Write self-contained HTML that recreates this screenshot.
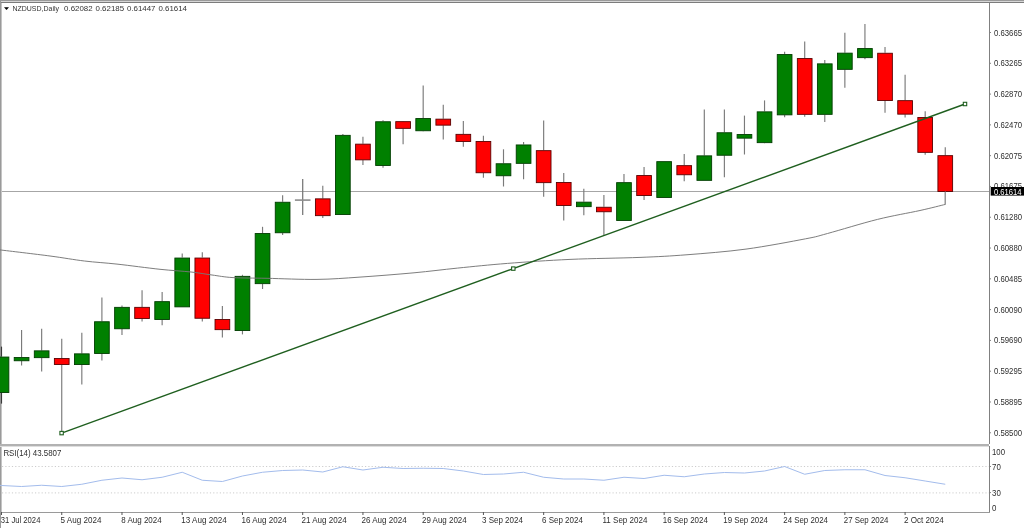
<!DOCTYPE html><html><head><meta charset="utf-8"><style>
html,body{margin:0;padding:0;background:#fff;width:1024px;height:528px;overflow:hidden}
svg{position:absolute;left:0;top:0;display:block;filter:blur(0.35px)}
text{font-family:"Liberation Sans",sans-serif}
</style></head><body>
<svg width="1024" height="528" viewBox="0 0 1024 528">
<rect x="0" y="0" width="1024" height="528" fill="#fff"/>
<rect x="0" y="0" width="1024" height="1" fill="#9a9a9a"/>
<rect x="0" y="1" width="1024" height="1" fill="#d6d6d6"/>
<rect x="1" y="2" width="1023" height="1" fill="#7c7c7c"/>
<rect x="0" y="0" width="1" height="528" fill="#9a9a9a"/>
<rect x="1" y="3" width="1" height="510" fill="#c4c4c4"/>
<rect x="989" y="3" width="1" height="441" fill="#808080"/>
<rect x="989" y="446" width="1" height="67" fill="#808080"/>
<rect x="0" y="444" width="989" height="2" fill="#b2b2b2"/>
<rect x="0" y="446" width="989" height="1" fill="#dedede"/>
<rect x="0" y="512" width="990" height="1" fill="#9a9a9a"/>
<rect x="2" y="191" width="987" height="1" fill="#a6a6a6"/>
<line x1="1.5" y1="346.6" x2="1.5" y2="356.6" stroke="#3a3a3a" stroke-width="1.15"/>
<line x1="1.5" y1="392.6" x2="1.5" y2="403.6" stroke="#3a3a3a" stroke-width="1.15"/>
<rect x="-5.85" y="357.05" width="14.7" height="35.5" fill="#008000" stroke="#003c00" stroke-width="0.9"/>
<line x1="21.58" y1="330" x2="21.58" y2="357.1" stroke="#7a7a7a" stroke-width="1.15"/>
<line x1="21.58" y1="360.8" x2="21.58" y2="365.5" stroke="#7a7a7a" stroke-width="1.15"/>
<rect x="14.23" y="357.55" width="14.7" height="3.2" fill="#008000" stroke="#003c00" stroke-width="0.9"/>
<line x1="41.66" y1="328.8" x2="41.66" y2="350.4" stroke="#7a7a7a" stroke-width="1.15"/>
<line x1="41.66" y1="357.7" x2="41.66" y2="371.5" stroke="#7a7a7a" stroke-width="1.15"/>
<rect x="34.31" y="350.85" width="14.7" height="6.8" fill="#008000" stroke="#003c00" stroke-width="0.9"/>
<line x1="61.74" y1="338.8" x2="61.74" y2="358.1" stroke="#7a7a7a" stroke-width="1.15"/>
<line x1="61.74" y1="364.6" x2="61.74" y2="433" stroke="#7a7a7a" stroke-width="1.15"/>
<rect x="54.39" y="358.55" width="14.7" height="6" fill="#ff0000" stroke="#5a0000" stroke-width="0.9"/>
<line x1="81.82" y1="332.8" x2="81.82" y2="353.4" stroke="#7a7a7a" stroke-width="1.15"/>
<line x1="81.82" y1="364.6" x2="81.82" y2="384.4" stroke="#7a7a7a" stroke-width="1.15"/>
<rect x="74.47" y="353.85" width="14.7" height="10.7" fill="#008000" stroke="#003c00" stroke-width="0.9"/>
<line x1="101.9" y1="297.5" x2="101.9" y2="321.3" stroke="#7a7a7a" stroke-width="1.15"/>
<line x1="101.9" y1="353.5" x2="101.9" y2="360.6" stroke="#7a7a7a" stroke-width="1.15"/>
<rect x="94.55" y="321.75" width="14.7" height="31.7" fill="#008000" stroke="#003c00" stroke-width="0.9"/>
<line x1="121.98" y1="305.6" x2="121.98" y2="306.9" stroke="#7a7a7a" stroke-width="1.15"/>
<line x1="121.98" y1="328.8" x2="121.98" y2="335" stroke="#7a7a7a" stroke-width="1.15"/>
<rect x="114.63" y="307.35" width="14.7" height="21.4" fill="#008000" stroke="#003c00" stroke-width="0.9"/>
<line x1="142.06" y1="290.2" x2="142.06" y2="306.9" stroke="#7a7a7a" stroke-width="1.15"/>
<line x1="142.06" y1="318.5" x2="142.06" y2="321.5" stroke="#7a7a7a" stroke-width="1.15"/>
<rect x="134.71" y="307.35" width="14.7" height="11.1" fill="#ff0000" stroke="#5a0000" stroke-width="0.9"/>
<line x1="162.14" y1="292.1" x2="162.14" y2="301.2" stroke="#7a7a7a" stroke-width="1.15"/>
<line x1="162.14" y1="319.6" x2="162.14" y2="325.3" stroke="#7a7a7a" stroke-width="1.15"/>
<rect x="154.79" y="301.65" width="14.7" height="17.9" fill="#008000" stroke="#003c00" stroke-width="0.9"/>
<line x1="182.22" y1="253.5" x2="182.22" y2="257.6" stroke="#7a7a7a" stroke-width="1.15"/>
<rect x="174.87" y="258.05" width="14.7" height="48.8" fill="#008000" stroke="#003c00" stroke-width="0.9"/>
<line x1="202.3" y1="252.3" x2="202.3" y2="257.6" stroke="#7a7a7a" stroke-width="1.15"/>
<line x1="202.3" y1="318.3" x2="202.3" y2="321.5" stroke="#7a7a7a" stroke-width="1.15"/>
<rect x="194.95" y="258.05" width="14.7" height="60.2" fill="#ff0000" stroke="#5a0000" stroke-width="0.9"/>
<line x1="222.38" y1="305.9" x2="222.38" y2="319.1" stroke="#7a7a7a" stroke-width="1.15"/>
<line x1="222.38" y1="329.7" x2="222.38" y2="337.5" stroke="#7a7a7a" stroke-width="1.15"/>
<rect x="215.03" y="319.55" width="14.7" height="10.1" fill="#ff0000" stroke="#5a0000" stroke-width="0.9"/>
<line x1="242.46" y1="274.8" x2="242.46" y2="275.9" stroke="#7a7a7a" stroke-width="1.15"/>
<line x1="242.46" y1="330.6" x2="242.46" y2="334.4" stroke="#7a7a7a" stroke-width="1.15"/>
<rect x="235.11" y="276.35" width="14.7" height="54.2" fill="#008000" stroke="#003c00" stroke-width="0.9"/>
<line x1="262.54" y1="226.8" x2="262.54" y2="233.1" stroke="#7a7a7a" stroke-width="1.15"/>
<line x1="262.54" y1="283.7" x2="262.54" y2="289" stroke="#7a7a7a" stroke-width="1.15"/>
<rect x="255.19" y="233.55" width="14.7" height="50.1" fill="#008000" stroke="#003c00" stroke-width="0.9"/>
<line x1="282.62" y1="195.2" x2="282.62" y2="201.8" stroke="#7a7a7a" stroke-width="1.15"/>
<line x1="282.62" y1="232.8" x2="282.62" y2="235.1" stroke="#7a7a7a" stroke-width="1.15"/>
<rect x="275.27" y="202.25" width="14.7" height="30.5" fill="#008000" stroke="#003c00" stroke-width="0.9"/>
<line x1="302.7" y1="179" x2="302.7" y2="215.1" stroke="#767676" stroke-width="1.25"/>
<rect x="294.9" y="199.3" width="15.6" height="1.6" fill="#8c8c8c"/>
<line x1="322.78" y1="185.8" x2="322.78" y2="198.4" stroke="#7a7a7a" stroke-width="1.15"/>
<line x1="322.78" y1="215.7" x2="322.78" y2="218.1" stroke="#7a7a7a" stroke-width="1.15"/>
<rect x="315.43" y="198.85" width="14.7" height="16.8" fill="#ff0000" stroke="#5a0000" stroke-width="0.9"/>
<line x1="342.86" y1="133.9" x2="342.86" y2="134.9" stroke="#7a7a7a" stroke-width="1.15"/>
<rect x="335.51" y="135.35" width="14.7" height="79.2" fill="#008000" stroke="#003c00" stroke-width="0.9"/>
<line x1="362.94" y1="136.8" x2="362.94" y2="143.7" stroke="#7a7a7a" stroke-width="1.15"/>
<line x1="362.94" y1="159.9" x2="362.94" y2="164.9" stroke="#7a7a7a" stroke-width="1.15"/>
<rect x="355.59" y="144.15" width="14.7" height="15.7" fill="#ff0000" stroke="#5a0000" stroke-width="0.9"/>
<line x1="383.02" y1="120.2" x2="383.02" y2="121.3" stroke="#7a7a7a" stroke-width="1.15"/>
<line x1="383.02" y1="165.5" x2="383.02" y2="167.8" stroke="#7a7a7a" stroke-width="1.15"/>
<rect x="375.67" y="121.75" width="14.7" height="43.7" fill="#008000" stroke="#003c00" stroke-width="0.9"/>
<line x1="403.1" y1="121" x2="403.1" y2="121.2" stroke="#7a7a7a" stroke-width="1.15"/>
<line x1="403.1" y1="128.4" x2="403.1" y2="144.2" stroke="#7a7a7a" stroke-width="1.15"/>
<rect x="395.75" y="121.65" width="14.7" height="6.7" fill="#ff0000" stroke="#5a0000" stroke-width="0.9"/>
<line x1="423.18" y1="85.4" x2="423.18" y2="118.1" stroke="#7a7a7a" stroke-width="1.15"/>
<line x1="423.18" y1="130.8" x2="423.18" y2="131.3" stroke="#7a7a7a" stroke-width="1.15"/>
<rect x="415.83" y="118.55" width="14.7" height="12.2" fill="#008000" stroke="#003c00" stroke-width="0.9"/>
<line x1="443.26" y1="104.8" x2="443.26" y2="118.7" stroke="#7a7a7a" stroke-width="1.15"/>
<line x1="443.26" y1="125.2" x2="443.26" y2="139.6" stroke="#7a7a7a" stroke-width="1.15"/>
<rect x="435.91" y="119.15" width="14.7" height="6" fill="#ff0000" stroke="#5a0000" stroke-width="0.9"/>
<line x1="463.34" y1="121" x2="463.34" y2="133.9" stroke="#7a7a7a" stroke-width="1.15"/>
<line x1="463.34" y1="141.5" x2="463.34" y2="146.8" stroke="#7a7a7a" stroke-width="1.15"/>
<rect x="455.99" y="134.35" width="14.7" height="7.1" fill="#ff0000" stroke="#5a0000" stroke-width="0.9"/>
<line x1="483.42" y1="135.7" x2="483.42" y2="141" stroke="#7a7a7a" stroke-width="1.15"/>
<line x1="483.42" y1="172.8" x2="483.42" y2="177.8" stroke="#7a7a7a" stroke-width="1.15"/>
<rect x="476.07" y="141.45" width="14.7" height="31.3" fill="#ff0000" stroke="#5a0000" stroke-width="0.9"/>
<line x1="503.5" y1="149.3" x2="503.5" y2="163.3" stroke="#7a7a7a" stroke-width="1.15"/>
<line x1="503.5" y1="175.8" x2="503.5" y2="186.5" stroke="#7a7a7a" stroke-width="1.15"/>
<rect x="496.15" y="163.75" width="14.7" height="12" fill="#008000" stroke="#003c00" stroke-width="0.9"/>
<line x1="523.58" y1="142" x2="523.58" y2="144.5" stroke="#7a7a7a" stroke-width="1.15"/>
<line x1="523.58" y1="163.4" x2="523.58" y2="179.3" stroke="#7a7a7a" stroke-width="1.15"/>
<rect x="516.23" y="144.95" width="14.7" height="18.4" fill="#008000" stroke="#003c00" stroke-width="0.9"/>
<line x1="543.66" y1="120.5" x2="543.66" y2="150.2" stroke="#7a7a7a" stroke-width="1.15"/>
<line x1="543.66" y1="182.7" x2="543.66" y2="196.8" stroke="#7a7a7a" stroke-width="1.15"/>
<rect x="536.31" y="150.65" width="14.7" height="32" fill="#ff0000" stroke="#5a0000" stroke-width="0.9"/>
<line x1="563.74" y1="172.9" x2="563.74" y2="182" stroke="#7a7a7a" stroke-width="1.15"/>
<line x1="563.74" y1="205.5" x2="563.74" y2="220.6" stroke="#7a7a7a" stroke-width="1.15"/>
<rect x="556.39" y="182.45" width="14.7" height="23" fill="#ff0000" stroke="#5a0000" stroke-width="0.9"/>
<line x1="583.82" y1="188.8" x2="583.82" y2="201.7" stroke="#7a7a7a" stroke-width="1.15"/>
<line x1="583.82" y1="206.7" x2="583.82" y2="215.3" stroke="#7a7a7a" stroke-width="1.15"/>
<rect x="576.47" y="202.15" width="14.7" height="4.5" fill="#008000" stroke="#003c00" stroke-width="0.9"/>
<line x1="603.9" y1="195.1" x2="603.9" y2="206.8" stroke="#7a7a7a" stroke-width="1.15"/>
<line x1="603.9" y1="211.8" x2="603.9" y2="235.3" stroke="#7a7a7a" stroke-width="1.15"/>
<rect x="596.55" y="207.25" width="14.7" height="4.5" fill="#ff0000" stroke="#5a0000" stroke-width="0.9"/>
<line x1="623.98" y1="174" x2="623.98" y2="182.2" stroke="#7a7a7a" stroke-width="1.15"/>
<rect x="616.63" y="182.65" width="14.7" height="37.8" fill="#008000" stroke="#003c00" stroke-width="0.9"/>
<line x1="644.06" y1="166.9" x2="644.06" y2="175.1" stroke="#7a7a7a" stroke-width="1.15"/>
<line x1="644.06" y1="195.6" x2="644.06" y2="199.9" stroke="#7a7a7a" stroke-width="1.15"/>
<rect x="636.71" y="175.55" width="14.7" height="20" fill="#ff0000" stroke="#5a0000" stroke-width="0.9"/>
<rect x="656.79" y="161.65" width="14.7" height="35.8" fill="#008000" stroke="#003c00" stroke-width="0.9"/>
<line x1="684.22" y1="153.9" x2="684.22" y2="165.2" stroke="#7a7a7a" stroke-width="1.15"/>
<line x1="684.22" y1="174.8" x2="684.22" y2="181.2" stroke="#7a7a7a" stroke-width="1.15"/>
<rect x="676.87" y="165.65" width="14.7" height="9.1" fill="#ff0000" stroke="#5a0000" stroke-width="0.9"/>
<line x1="704.3" y1="109.5" x2="704.3" y2="155.4" stroke="#7a7a7a" stroke-width="1.15"/>
<rect x="696.95" y="155.85" width="14.7" height="24.5" fill="#008000" stroke="#003c00" stroke-width="0.9"/>
<line x1="724.38" y1="109.4" x2="724.38" y2="132.3" stroke="#7a7a7a" stroke-width="1.15"/>
<line x1="724.38" y1="155.3" x2="724.38" y2="177.3" stroke="#7a7a7a" stroke-width="1.15"/>
<rect x="717.03" y="132.75" width="14.7" height="22.5" fill="#008000" stroke="#003c00" stroke-width="0.9"/>
<line x1="744.46" y1="115.6" x2="744.46" y2="134.1" stroke="#7a7a7a" stroke-width="1.15"/>
<line x1="744.46" y1="138.2" x2="744.46" y2="154.5" stroke="#7a7a7a" stroke-width="1.15"/>
<rect x="737.11" y="134.55" width="14.7" height="3.6" fill="#008000" stroke="#003c00" stroke-width="0.9"/>
<line x1="764.54" y1="100.4" x2="764.54" y2="111.4" stroke="#7a7a7a" stroke-width="1.15"/>
<line x1="764.54" y1="142.7" x2="764.54" y2="143.2" stroke="#7a7a7a" stroke-width="1.15"/>
<rect x="757.19" y="111.85" width="14.7" height="30.8" fill="#008000" stroke="#003c00" stroke-width="0.9"/>
<line x1="784.62" y1="51.8" x2="784.62" y2="54.1" stroke="#7a7a7a" stroke-width="1.15"/>
<line x1="784.62" y1="114.9" x2="784.62" y2="117.2" stroke="#7a7a7a" stroke-width="1.15"/>
<rect x="777.27" y="54.55" width="14.7" height="60.3" fill="#008000" stroke="#003c00" stroke-width="0.9"/>
<line x1="804.7" y1="41.4" x2="804.7" y2="58.1" stroke="#7a7a7a" stroke-width="1.15"/>
<line x1="804.7" y1="114.4" x2="804.7" y2="116.8" stroke="#7a7a7a" stroke-width="1.15"/>
<rect x="797.35" y="58.55" width="14.7" height="55.8" fill="#ff0000" stroke="#5a0000" stroke-width="0.9"/>
<line x1="824.78" y1="60" x2="824.78" y2="63.4" stroke="#7a7a7a" stroke-width="1.15"/>
<line x1="824.78" y1="114.4" x2="824.78" y2="122" stroke="#7a7a7a" stroke-width="1.15"/>
<rect x="817.43" y="63.85" width="14.7" height="50.5" fill="#008000" stroke="#003c00" stroke-width="0.9"/>
<line x1="844.86" y1="32.8" x2="844.86" y2="52.7" stroke="#7a7a7a" stroke-width="1.15"/>
<line x1="844.86" y1="69.4" x2="844.86" y2="87.8" stroke="#7a7a7a" stroke-width="1.15"/>
<rect x="837.51" y="53.15" width="14.7" height="16.2" fill="#008000" stroke="#003c00" stroke-width="0.9"/>
<line x1="864.94" y1="23.9" x2="864.94" y2="48.1" stroke="#7a7a7a" stroke-width="1.15"/>
<line x1="864.94" y1="57.7" x2="864.94" y2="59.2" stroke="#7a7a7a" stroke-width="1.15"/>
<rect x="857.59" y="48.55" width="14.7" height="9.1" fill="#008000" stroke="#003c00" stroke-width="0.9"/>
<line x1="885.02" y1="47.1" x2="885.02" y2="52.8" stroke="#7a7a7a" stroke-width="1.15"/>
<line x1="885.02" y1="100.6" x2="885.02" y2="112.7" stroke="#7a7a7a" stroke-width="1.15"/>
<rect x="877.67" y="53.25" width="14.7" height="47.3" fill="#ff0000" stroke="#5a0000" stroke-width="0.9"/>
<line x1="905.1" y1="74.8" x2="905.1" y2="100.2" stroke="#7a7a7a" stroke-width="1.15"/>
<line x1="905.1" y1="114.2" x2="905.1" y2="117.6" stroke="#7a7a7a" stroke-width="1.15"/>
<rect x="897.75" y="100.65" width="14.7" height="13.5" fill="#ff0000" stroke="#5a0000" stroke-width="0.9"/>
<line x1="925.18" y1="111.2" x2="925.18" y2="117" stroke="#7a7a7a" stroke-width="1.15"/>
<line x1="925.18" y1="152.4" x2="925.18" y2="154.8" stroke="#7a7a7a" stroke-width="1.15"/>
<rect x="917.83" y="117.45" width="14.7" height="34.9" fill="#ff0000" stroke="#5a0000" stroke-width="0.9"/>
<line x1="945.26" y1="147.3" x2="945.26" y2="155.2" stroke="#7a7a7a" stroke-width="1.15"/>
<line x1="945.26" y1="191.5" x2="945.26" y2="204.4" stroke="#7a7a7a" stroke-width="1.15"/>
<rect x="937.91" y="155.65" width="14.7" height="35.8" fill="#ff0000" stroke="#5a0000" stroke-width="0.9"/>
<path fill="none" stroke="#767676" stroke-width="0.95" d="M0,249.9 C8.33,250.92 35.93,254.15 50,256 C64.07,257.85 73.23,259.65 84.4,261 C95.57,262.35 104.4,262.72 117,264.1 C129.6,265.48 147.67,267.98 160,269.3 C172.33,270.62 182.33,271.05 191,272 C199.67,272.95 205,274.07 212,275 C219,275.93 223.83,277.05 233,277.6 C242.17,278.15 253,278 267,278.3 C281,278.6 301.5,279.6 317,279.4 C332.5,279.2 343.83,278.2 360,277.1 C376.17,276 397.75,274.3 414,272.8 C430.25,271.3 441.92,269.67 457.5,268.1 C473.08,266.53 488.75,264.85 507.5,263.4 C526.25,261.95 547.92,260.4 570,259.4 C592.08,258.4 620.5,258.17 640,257.4 C659.5,256.62 669.33,256.13 687,254.75 C704.67,253.37 726.23,251.76 746,249.1 C765.77,246.44 792.02,241.4 805.6,238.8 C819.18,236.2 815.52,236.73 827.5,233.5 C839.48,230.27 862.08,223.23 877.5,219.4 C892.92,215.57 908.7,213 920,210.5 C931.3,208 941.08,205.42 945.3,204.4"/>
<line x1="945.3" y1="191.5" x2="945.3" y2="204.4" stroke="#9a9a9a" stroke-width="1"/>
<line x1="61.6" y1="433.1" x2="965" y2="104" stroke="#1f5f1f" stroke-width="1.35"/>
<rect x="59.9" y="431.4" width="3.4" height="3.4" fill="#fff" stroke="#1f5f1f" stroke-width="1.1"/>
<rect x="511.6" y="266.9" width="3.4" height="3.4" fill="#fff" stroke="#1f5f1f" stroke-width="1.1"/>
<rect x="963.3" y="102.3" width="3.4" height="3.4" fill="#fff" stroke="#1f5f1f" stroke-width="1.1"/>
<line x1="2" y1="466.5" x2="989" y2="466.5" stroke="#cdcdcd" stroke-width="1" stroke-dasharray="1.2,2.1"/>
<line x1="2" y1="492.9" x2="989" y2="492.9" stroke="#cdcdcd" stroke-width="1" stroke-dasharray="1.2,2.1"/>
<polyline fill="none" stroke="#a3bcec" stroke-width="1" points="0,485.4 1.5,485.5 21.58,486.5 41.66,485.25 61.74,486.5 81.82,484.25 101.9,480.25 121.98,478 142.06,479.75 162.14,477.25 182.22,472.25 202.3,480.25 222.38,481.5 242.46,476 262.54,472.25 282.62,470.5 302.7,470 322.78,472 342.86,466.75 362.94,470 383.02,467.25 403.1,468.5 423.18,468.25 443.26,468.5 463.34,471 483.42,474.5 503.5,474 523.58,472.25 543.66,477.25 563.74,479 583.82,479 603.9,480.25 623.98,477.25 644.06,478.5 664.14,475.25 684.22,476.75 704.3,474 724.38,472.5 744.46,473 764.54,471 784.62,466.5 804.7,474.25 824.78,470.5 844.86,469.75 864.94,469.75 885.02,475.5 905.1,477.75 925.18,481 945.26,484.25"/>
<rect x="990" y="32" width="1" height="1" fill="#808080"/>
<text x="994" y="35.5" font-size="8.4" fill="#2e2e2e" textLength="28" lengthAdjust="spacingAndGlyphs">0.63665</text>
<rect x="990" y="62.79" width="1" height="1" fill="#808080"/>
<text x="994" y="66.29" font-size="8.4" fill="#2e2e2e" textLength="28" lengthAdjust="spacingAndGlyphs">0.63265</text>
<rect x="990" y="93.58" width="1" height="1" fill="#808080"/>
<text x="994" y="97.08" font-size="8.4" fill="#2e2e2e" textLength="28" lengthAdjust="spacingAndGlyphs">0.62870</text>
<rect x="990" y="124.37" width="1" height="1" fill="#808080"/>
<text x="994" y="127.87" font-size="8.4" fill="#2e2e2e" textLength="28" lengthAdjust="spacingAndGlyphs">0.62470</text>
<rect x="990" y="155.16" width="1" height="1" fill="#808080"/>
<text x="994" y="158.66" font-size="8.4" fill="#2e2e2e" textLength="28" lengthAdjust="spacingAndGlyphs">0.62075</text>
<rect x="990" y="185.95" width="1" height="1" fill="#808080"/>
<text x="994" y="189.45" font-size="8.4" fill="#2e2e2e" textLength="28" lengthAdjust="spacingAndGlyphs">0.61675</text>
<rect x="990" y="216.74" width="1" height="1" fill="#808080"/>
<text x="994" y="220.24" font-size="8.4" fill="#2e2e2e" textLength="28" lengthAdjust="spacingAndGlyphs">0.61280</text>
<rect x="990" y="247.53" width="1" height="1" fill="#808080"/>
<text x="994" y="251.03" font-size="8.4" fill="#2e2e2e" textLength="28" lengthAdjust="spacingAndGlyphs">0.60880</text>
<rect x="990" y="278.32" width="1" height="1" fill="#808080"/>
<text x="994" y="281.82" font-size="8.4" fill="#2e2e2e" textLength="28" lengthAdjust="spacingAndGlyphs">0.60485</text>
<rect x="990" y="309.11" width="1" height="1" fill="#808080"/>
<text x="994" y="312.61" font-size="8.4" fill="#2e2e2e" textLength="28" lengthAdjust="spacingAndGlyphs">0.60090</text>
<rect x="990" y="339.9" width="1" height="1" fill="#808080"/>
<text x="994" y="343.4" font-size="8.4" fill="#2e2e2e" textLength="28" lengthAdjust="spacingAndGlyphs">0.59690</text>
<rect x="990" y="370.69" width="1" height="1" fill="#808080"/>
<text x="994" y="374.19" font-size="8.4" fill="#2e2e2e" textLength="28" lengthAdjust="spacingAndGlyphs">0.59295</text>
<rect x="990" y="401.48" width="1" height="1" fill="#808080"/>
<text x="994" y="404.98" font-size="8.4" fill="#2e2e2e" textLength="28" lengthAdjust="spacingAndGlyphs">0.58895</text>
<rect x="990" y="432.27" width="1" height="1" fill="#808080"/>
<text x="994" y="435.77" font-size="8.4" fill="#2e2e2e" textLength="28" lengthAdjust="spacingAndGlyphs">0.58500</text>
<rect x="990.7" y="187" width="34" height="8.6" fill="#000"/>
<text x="994" y="194.6" font-size="8.6" fill="#fff" textLength="27.6" lengthAdjust="spacingAndGlyphs">0.61614</text>
<text x="992" y="454.7" font-size="8.4" fill="#2e2e2e" textLength="13" lengthAdjust="spacingAndGlyphs">100</text>
<text x="992" y="470" font-size="8.4" fill="#2e2e2e" textLength="8.8" lengthAdjust="spacingAndGlyphs">70</text>
<text x="992" y="495.8" font-size="8.4" fill="#2e2e2e" textLength="8.8" lengthAdjust="spacingAndGlyphs">30</text>
<text x="992" y="510.8" font-size="8.4" fill="#2e2e2e" textLength="4.4" lengthAdjust="spacingAndGlyphs">0</text>
<rect x="990" y="466" width="1" height="1" fill="#808080"/>
<rect x="990" y="492.1" width="1" height="1" fill="#808080"/>
<rect x="1" y="512" width="1" height="3" fill="#555"/>
<text x="0.75" y="523" font-size="8.3" fill="#2e2e2e" textLength="39.65" lengthAdjust="spacingAndGlyphs">31 Jul 2024</text>
<rect x="61.24" y="512" width="1" height="3" fill="#555"/>
<text x="60.5" y="523" font-size="8.3" fill="#2e2e2e" textLength="40.9" lengthAdjust="spacingAndGlyphs">5 Aug 2024</text>
<rect x="121.48" y="512" width="1" height="3" fill="#555"/>
<text x="121.25" y="523" font-size="8.3" fill="#2e2e2e" textLength="40.4" lengthAdjust="spacingAndGlyphs">8 Aug 2024</text>
<rect x="181.72" y="512" width="1" height="3" fill="#555"/>
<text x="181.25" y="523" font-size="8.3" fill="#2e2e2e" textLength="45.4" lengthAdjust="spacingAndGlyphs">13 Aug 2024</text>
<rect x="241.96" y="512" width="1" height="3" fill="#555"/>
<text x="241.5" y="523" font-size="8.3" fill="#2e2e2e" textLength="45.15" lengthAdjust="spacingAndGlyphs">16 Aug 2024</text>
<rect x="302.2" y="512" width="1" height="3" fill="#555"/>
<text x="301.5" y="523" font-size="8.3" fill="#2e2e2e" textLength="45.15" lengthAdjust="spacingAndGlyphs">21 Aug 2024</text>
<rect x="362.44" y="512" width="1" height="3" fill="#555"/>
<text x="361.5" y="523" font-size="8.3" fill="#2e2e2e" textLength="45.15" lengthAdjust="spacingAndGlyphs">26 Aug 2024</text>
<rect x="422.68" y="512" width="1" height="3" fill="#555"/>
<text x="422" y="523" font-size="8.3" fill="#2e2e2e" textLength="44.65" lengthAdjust="spacingAndGlyphs">29 Aug 2024</text>
<rect x="482.92" y="512" width="1" height="3" fill="#555"/>
<text x="482" y="523" font-size="8.3" fill="#2e2e2e" textLength="40.9" lengthAdjust="spacingAndGlyphs">3 Sep 2024</text>
<rect x="543.16" y="512" width="1" height="3" fill="#555"/>
<text x="542" y="523" font-size="8.3" fill="#2e2e2e" textLength="40.9" lengthAdjust="spacingAndGlyphs">6 Sep 2024</text>
<rect x="603.4" y="512" width="1" height="3" fill="#555"/>
<text x="602.5" y="523" font-size="8.3" fill="#2e2e2e" textLength="44.9" lengthAdjust="spacingAndGlyphs">11 Sep 2024</text>
<rect x="663.64" y="512" width="1" height="3" fill="#555"/>
<text x="662.75" y="523" font-size="8.3" fill="#2e2e2e" textLength="45.15" lengthAdjust="spacingAndGlyphs">16 Sep 2024</text>
<rect x="723.88" y="512" width="1" height="3" fill="#555"/>
<text x="723.25" y="523" font-size="8.3" fill="#2e2e2e" textLength="44.65" lengthAdjust="spacingAndGlyphs">19 Sep 2024</text>
<rect x="784.12" y="512" width="1" height="3" fill="#555"/>
<text x="783.25" y="523" font-size="8.3" fill="#2e2e2e" textLength="44.65" lengthAdjust="spacingAndGlyphs">24 Sep 2024</text>
<rect x="844.36" y="512" width="1" height="3" fill="#555"/>
<text x="843.75" y="523" font-size="8.3" fill="#2e2e2e" textLength="44.65" lengthAdjust="spacingAndGlyphs">27 Sep 2024</text>
<rect x="904.6" y="512" width="1" height="3" fill="#555"/>
<text x="904" y="523" font-size="8.3" fill="#2e2e2e" textLength="39.65" lengthAdjust="spacingAndGlyphs">2 Oct 2024</text>
<text x="3.4" y="456.3" font-size="8.3" fill="#2e2e2e" textLength="58" lengthAdjust="spacingAndGlyphs">RSI(14) 43.5807</text>
<polygon points="4,7.2 9,7.2 6.5,10" fill="#000"/>
<text x="12.5" y="11.2" font-size="7.6" fill="#333" textLength="46.5" lengthAdjust="spacingAndGlyphs">NZDUSD,Daily</text>
<text x="64.1" y="11.2" font-size="7.8" fill="#333" textLength="28.5" lengthAdjust="spacingAndGlyphs">0.62082</text>
<text x="95.55" y="11.2" font-size="7.8" fill="#333" textLength="28.5" lengthAdjust="spacingAndGlyphs">0.62185</text>
<text x="127" y="11.2" font-size="7.8" fill="#333" textLength="28.5" lengthAdjust="spacingAndGlyphs">0.61447</text>
<text x="158.45" y="11.2" font-size="7.8" fill="#333" textLength="28.5" lengthAdjust="spacingAndGlyphs">0.61614</text>
</svg></body></html>
